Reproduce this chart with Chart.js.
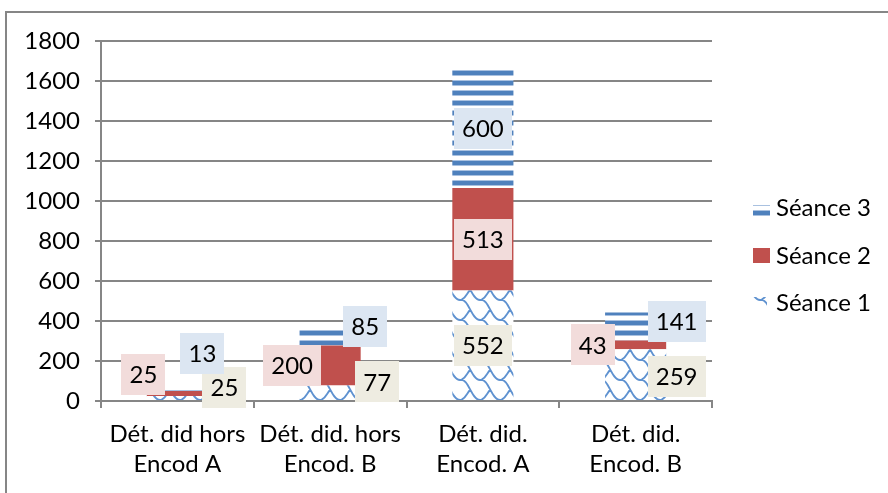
<!DOCTYPE html>
<html><head><meta charset="utf-8">
<script src="https://cdn.jsdelivr.net/npm/chart.js@4"></script>
<style>html,body{margin:0;padding:0;background:#fff}canvas{display:block}</style>
</head><body>
<canvas id="c" width="888" height="493"></canvas>
<script>
const categories = [["Dét. did hors","Encod A"],["Dét. did. hors","Encod. B"],["Dét. did.","Encod. A"],["Dét. did.","Encod. B"]];
const seriesNames = ["Séance 1","Séance 2","Séance 3"];
const seance1 = [25, 77, 552, 259];
const seance2 = [25, 200, 513, 43];
const seance3 = [13, 85, 600, 141];
const yMin = 0, yMax = 1800, yStep = 200;

const FONT = 'Lato';
const FS = 24;

function stripePattern(){
  const t=document.createElement('canvas'); t.width=8; t.height=10;
  const g=t.getContext('2d');
  g.fillStyle='#ffffff'; g.fillRect(0,0,8,10);
  g.fillStyle='#a9c1e0'; g.fillRect(0,0,8,1); g.fillRect(0,5,8,1);
  g.fillStyle='#4f81bd'; g.fillRect(0,1,8,4);
  return g.createPattern(t,'repeat');
}
function wavePattern(){
  const t=document.createElement('canvas'); t.width=20; t.height=20;
  const g=t.getContext('2d');
  g.fillStyle='#ffffff'; g.fillRect(0,0,20,20);
  g.strokeStyle='#5f92d0'; g.lineWidth=1.8; g.lineCap='round';
  g.beginPath();
  for(const dx of [-20,0,20]){
    for(const o of [-20,0,20]){
      g.moveTo(dx+0,o); g.bezierCurveTo(dx+9,o-2,dx+11,o+20,dx+20,o+20);
      g.moveTo(dx+10,o+10); g.bezierCurveTo(dx+7,o+13,dx+6,o+18,dx+1,o+20);
    }
  }
  g.stroke();
  return g.createPattern(t,'repeat');
}

const labelBoxColors = ['#eeece1','#f2dcdb','#dce6f2'];
const labelOffsets = [
  [[47,-11],[47,-11],[0,0],[41,2]],
  [[-34,-19],[-38,0],[0,0],[-43,0]],
  [[25,-36],[35,-11],[0,0],[41,-5]]
];

const frame = {
  id:'frame',
  beforeDraw(chart){
    const c=chart.ctx; c.save();
    c.fillStyle='#fff'; c.fillRect(0,0,chart.width,chart.height);
    c.strokeStyle='#868686'; c.lineWidth=2;
    c.beginPath(); c.moveTo(6,chart.height+2); c.lineTo(6,12); c.lineTo(chart.width+2,12); c.stroke();
    c.restore();
  }
};

const boxLabels = {
  id:'boxLabels',
  afterDatasetsDraw(chart){
    const c=chart.ctx; c.save();
    c.font = FS+'px '+FONT; c.textAlign='center'; c.textBaseline='middle';
    chart.data.datasets.forEach((ds,di)=>{
      const meta=chart.getDatasetMeta(di);
      meta.data.forEach((el,i)=>{
        const p=el.getProps(['x','y','base'],true);
        const off=labelOffsets[di][i];
        const cx=p.x+off[0], cy=(p.y+p.base)/2+off[1];
        const txt=String(ds.data[i]);
        const w=c.measureText(txt).width+16, h=41;
        c.fillStyle=labelBoxColors[di];
        c.fillRect(Math.round(cx-w/2),Math.round(cy-h/2),Math.round(w),h);
        c.fillStyle='#000';
        c.fillText(txt,cx,cy+1);
      });
    });
    c.restore();
  }
};

const legendPlugin = {
  id:'customLegend',
  afterDraw(chart){
    const c=chart.ctx; c.save();
    c.font = FS+'px '+FONT; c.textAlign='left'; c.textBaseline='middle';
    const ys=[207,255,302];
    const n=chart.data.datasets.length;
    for(let k=0;k<n;k++){
      const ds=chart.data.datasets[n-1-k];
      const y=ys[k];
      c.fillStyle=ds.backgroundColor;
      if(k===0){ c.fillRect(753,y-2,17,11); }
      else if(k===1){ c.fillRect(753,y-7,17,15); }
      else { c.fillRect(753,y-5,14,12); }
      c.fillStyle='#000';
      c.fillText(ds.label,776,y+1);
    }
    c.restore();
  }
};

new Chart(document.getElementById('c'),{
  type:'bar',
  data:{
    labels:categories,
    datasets:[
      {label:seriesNames[0],data:seance1,backgroundColor:wavePattern(),borderWidth:0},
      {label:seriesNames[1],data:seance2,backgroundColor:'#c0504d',borderWidth:0},
      {label:seriesNames[2],data:seance3,backgroundColor:stripePattern(),borderWidth:0}
    ]
  },
  options:{
    responsive:false,
    animation:false,
    events:[],
    layout:{padding:{left:0,top:41,right:176,bottom:0}},
    datasets:{bar:{barPercentage:0.4,categoryPercentage:1}},
    plugins:{legend:{display:false},tooltip:{enabled:false}},
    scales:{
      x:{
        stacked:true,
        afterFit(s){ s.height=92; },
        grid:{drawOnChartArea:false,drawTicks:true,tickLength:7,offset:true,color:'#868686',lineWidth:2},
        border:{display:true,color:'#868686',width:2},
        ticks:{color:'#000',font:{family:FONT,size:FS,lineHeight:1.22},padding:12,maxRotation:0,autoSkip:false}
      },
      y:{
        stacked:true,
        min:yMin,max:yMax,
        afterFit(s){ s.width=101; },
        grid:{color:'#868686',lineWidth:2,tickLength:6,drawTicks:true},
        border:{display:true,color:'#868686',width:2},
        ticks:{stepSize:yStep,color:'#000',font:{family:FONT,size:FS},padding:15,callback:(v)=>String(v)}
      }
    }
  },
  plugins:[frame,boxLabels,legendPlugin]
});
</script>
</body></html>
